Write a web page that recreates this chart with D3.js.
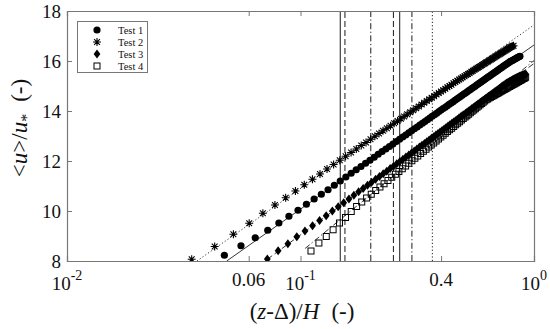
<!DOCTYPE html>
<html lang="en">
<head>
<meta charset="UTF-8">
<script src="https://d3js.org/d3.v7.min.js"></script>
<style>
    body { margin: 0; background: white; }
    text { font-family: "Liberation Serif", "Times New Roman", serif; fill: #111; }
</style>
</head>
<body>
<div id="chart"></div>
<script>
    // measured profiles, one array pair per test
    const testNames = ["Test 1", "Test 2", "Test 3", "Test 4"];

    const test1X = [0.0472, 0.0556, 0.064, 0.0724, 0.0808, 0.0892, 0.0976, 0.106, 0.1144, 0.1228,
        0.1312, 0.1396, 0.148, 0.1564, 0.1648, 0.1732, 0.1816, 0.19, 0.1984, 0.2068,
        0.2152, 0.2236, 0.232, 0.2404, 0.2488, 0.2572, 0.2656, 0.274, 0.2824, 0.2908,
        0.2992, 0.3076, 0.316, 0.3244, 0.3328, 0.3412, 0.3496, 0.358, 0.3664, 0.3748,
        0.3832, 0.3916, 0.4, 0.4084, 0.4168, 0.4252, 0.4336, 0.442, 0.4504, 0.4588,
        0.4672, 0.4756, 0.484, 0.4924, 0.5008, 0.5092, 0.5176, 0.526, 0.5344, 0.5428,
        0.5512, 0.5596, 0.568, 0.5764, 0.5848, 0.5932, 0.6016, 0.61, 0.6184, 0.6268,
        0.6352, 0.6436, 0.652, 0.6604, 0.6688, 0.6772, 0.6856, 0.694, 0.7024, 0.7108,
        0.7192, 0.7276, 0.736, 0.7444, 0.7528, 0.7612, 0.7696, 0.778, 0.7864, 0.7948,
        0.8032, 0.8116, 0.82, 0.8284, 0.8368, 0.8452, 0.8536, 0.862, 0.8704];
    const test1Y = [8.23, 8.61, 8.93, 9.23, 9.52, 9.79, 10.03, 10.27, 10.48, 10.67,
        10.85, 11.03, 11.20, 11.36, 11.51, 11.65, 11.78, 11.91, 12.03, 12.15,
        12.27, 12.38, 12.48, 12.58, 12.68, 12.78, 12.87, 12.96, 13.04, 13.13,
        13.21, 13.29, 13.36, 13.44, 13.51, 13.58, 13.65, 13.72, 13.79, 13.85,
        13.91, 13.98, 14.04, 14.10, 14.15, 14.21, 14.27, 14.32, 14.37, 14.43,
        14.48, 14.53, 14.58, 14.63, 14.68, 14.72, 14.77, 14.82, 14.86, 14.91,
        14.95, 14.99, 15.04, 15.08, 15.12, 15.16, 15.20, 15.24, 15.28, 15.32,
        15.36, 15.39, 15.43, 15.47, 15.50, 15.54, 15.57, 15.61, 15.64, 15.68,
        15.71, 15.74, 15.78, 15.81, 15.84, 15.87, 15.90, 15.93, 15.96, 15.99,
        16.01, 16.03, 16.06, 16.08, 16.10, 16.13, 16.15, 16.17, 16.19];

    const test2X = [0.0342, 0.0429, 0.0516, 0.0603, 0.069, 0.0777, 0.0864, 0.0951, 0.1038, 0.1125,
        0.1212, 0.1299, 0.1386, 0.1473, 0.156, 0.1647, 0.1734, 0.1821, 0.1908, 0.1995,
        0.2082, 0.2169, 0.2256, 0.2343, 0.243, 0.2517, 0.2604, 0.2691, 0.2778, 0.2865,
        0.2952, 0.3039, 0.3126, 0.3213, 0.33, 0.3387, 0.3474, 0.3561, 0.3648, 0.3735,
        0.3822, 0.3909, 0.3996, 0.4083, 0.417, 0.4257, 0.4344, 0.4431, 0.4518, 0.4605,
        0.4692, 0.4779, 0.4866, 0.4953, 0.504, 0.5127, 0.5214, 0.5301, 0.5388, 0.5475,
        0.5562, 0.5649, 0.5736, 0.5823, 0.591, 0.5997, 0.6084, 0.6171, 0.6258, 0.6345,
        0.6432, 0.6519, 0.6606, 0.6693, 0.678, 0.6867, 0.6954, 0.7041, 0.7128, 0.7215,
        0.7302, 0.7389, 0.7476, 0.7563, 0.765, 0.7737, 0.7824, 0.7911, 0.7998, 0.8085,
        0.8172];
    const test2Y = [8.07, 8.58, 9.07, 9.51, 9.91, 10.24, 10.53, 10.80, 11.05, 11.27,
        11.48, 11.68, 11.86, 12.03, 12.19, 12.34, 12.48, 12.62, 12.74, 12.87,
        12.99, 13.10, 13.21, 13.31, 13.41, 13.51, 13.60, 13.69, 13.78, 13.87,
        13.95, 14.03, 14.11, 14.18, 14.26, 14.33, 14.40, 14.47, 14.53, 14.59,
        14.66, 14.72, 14.78, 14.83, 14.89, 14.95, 15.00, 15.05, 15.11, 15.16,
        15.21, 15.26, 15.30, 15.35, 15.39, 15.44, 15.48, 15.52, 15.57, 15.61,
        15.65, 15.69, 15.73, 15.76, 15.80, 15.84, 15.88, 15.91, 15.95, 15.98,
        16.02, 16.05, 16.09, 16.12, 16.15, 16.19, 16.22, 16.25, 16.28, 16.31,
        16.34, 16.37, 16.40, 16.43, 16.46, 16.49, 16.52, 16.55, 16.57, 16.59,
        16.61];

    const test3X = [0.0721, 0.0802, 0.0883, 0.0964, 0.1045, 0.1126, 0.1207, 0.1288, 0.1369, 0.145,
        0.1531, 0.1612, 0.1693, 0.1774, 0.1855, 0.1936, 0.2017, 0.2098, 0.2179, 0.226,
        0.2341, 0.2422, 0.2503, 0.2584, 0.2665, 0.2746, 0.2827, 0.2908, 0.2989, 0.307,
        0.3151, 0.3232, 0.3313, 0.3394, 0.3475, 0.3556, 0.3637, 0.3718, 0.3799, 0.388,
        0.3961, 0.4042, 0.4123, 0.4204, 0.4285, 0.4366, 0.4447, 0.4528, 0.4609, 0.469,
        0.4771, 0.4852, 0.4933, 0.5014, 0.5095, 0.5176, 0.5257, 0.5338, 0.5419, 0.55,
        0.5581, 0.5662, 0.5743, 0.5824, 0.5905, 0.5986, 0.6067, 0.6148, 0.6229, 0.631,
        0.6391, 0.6472, 0.6553, 0.6634, 0.6715, 0.6796, 0.6877, 0.6958, 0.7039, 0.712,
        0.7201, 0.7282, 0.7363, 0.7444, 0.7525, 0.7606, 0.7687, 0.7768, 0.7849, 0.793,
        0.8011, 0.8092, 0.8173, 0.8254, 0.8335, 0.8416, 0.8497, 0.8578, 0.8659, 0.874,
        0.8821, 0.8902, 0.8983, 0.9064, 0.9145, 0.9226];
    const test3Y = [8.08, 8.41, 8.69, 8.97, 9.20, 9.41, 9.62, 9.81, 10.00, 10.17,
        10.33, 10.48, 10.63, 10.77, 10.90, 11.03, 11.15, 11.27, 11.38, 11.49,
        11.59, 11.70, 11.79, 11.89, 11.98, 12.07, 12.16, 12.24, 12.32, 12.40,
        12.48, 12.56, 12.63, 12.70, 12.77, 12.84, 12.91, 12.97, 13.04, 13.10,
        13.16, 13.22, 13.28, 13.34, 13.40, 13.45, 13.51, 13.56, 13.61, 13.66,
        13.72, 13.77, 13.82, 13.86, 13.91, 13.96, 14.00, 14.05, 14.10, 14.14,
        14.18, 14.23, 14.27, 14.31, 14.35, 14.39, 14.43, 14.47, 14.51, 14.55,
        14.59, 14.62, 14.66, 14.70, 14.73, 14.77, 14.80, 14.84, 14.87, 14.91,
        14.94, 14.98, 15.01, 15.04, 15.07, 15.11, 15.13, 15.15, 15.18, 15.20,
        15.22, 15.25, 15.27, 15.29, 15.31, 15.33, 15.35, 15.37, 15.38, 15.40,
        15.42, 15.43, 15.44, 15.45, 15.46, 15.47];

    const test4X = [0.1109, 0.1199, 0.1289, 0.1379, 0.1469, 0.1559, 0.1649, 0.1739, 0.1829, 0.1919,
        0.2009, 0.2099, 0.2189, 0.2279, 0.2369, 0.2459, 0.2549, 0.2639, 0.2729, 0.2819,
        0.2909, 0.2999, 0.3089, 0.3179, 0.3269, 0.3359, 0.3449, 0.3539, 0.3629, 0.3719,
        0.3809, 0.3899, 0.3989, 0.4079, 0.4169, 0.4259, 0.4349, 0.4439, 0.4529, 0.4619,
        0.4709, 0.4799, 0.4889, 0.4979, 0.5069, 0.5159, 0.5249, 0.5339, 0.5429, 0.5519,
        0.5609, 0.5699, 0.5789, 0.5879, 0.5969, 0.6059, 0.6149, 0.6239, 0.6329, 0.6419,
        0.6509, 0.6599, 0.6689, 0.6779, 0.6869, 0.6959, 0.7049, 0.7139, 0.7229, 0.7319,
        0.7409, 0.7499, 0.7589, 0.7679, 0.7769, 0.7859, 0.7949, 0.8039, 0.8129, 0.8219,
        0.8309, 0.8399, 0.8489, 0.8579, 0.8669, 0.8759, 0.8849, 0.8939, 0.9029, 0.9119,
        0.9209];
    const test4Y = [8.40, 8.72, 8.98, 9.25, 9.52, 9.74, 9.98, 10.18, 10.36, 10.52,
        10.67, 10.82, 10.96, 11.09, 11.22, 11.35, 11.47, 11.58, 11.69, 11.80,
        11.91, 12.01, 12.11, 12.20, 12.30, 12.39, 12.47, 12.56, 12.64, 12.72,
        12.80, 12.88, 12.96, 13.03, 13.11, 13.18, 13.25, 13.31, 13.38, 13.45,
        13.51, 13.57, 13.64, 13.70, 13.76, 13.81, 13.87, 13.93, 13.99, 14.04,
        14.09, 14.15, 14.20, 14.25, 14.30, 14.35, 14.40, 14.45, 14.48, 14.52,
        14.55, 14.58, 14.61, 14.64, 14.67, 14.70, 14.73, 14.76, 14.79, 14.82,
        14.85, 14.87, 14.90, 14.93, 14.96, 14.98, 15.01, 15.03, 15.06, 15.08,
        15.11, 15.13, 15.16, 15.18, 15.21, 15.23, 15.25, 15.28, 15.30, 15.32,
        15.35];

    // log-law fits (start and end point of each line), order = testNames
    const fitX0 = [0.0483, 0.036, 0.0721, 0.1046];
    const fitY0 = [8.0, 8.0, 8.07, 8.5];
    const fitX1 = [1, 1, 1, 1];
    const fitY1 = [16.64, 17.44, 15.9, 16.02];

    // limits of the fit ranges, with the test they belong to
    const vlineX = [0.148, 0.266, 0.367, 0.155, 0.25, 0.2, 0.3];
    const vlineTest = [0, 0, 1, 2, 2, 3, 3];

    const xTicks = [0.01, 0.06, 0.1, 0.4, 1];
    const xTickBase = ["10", "0.06", "10", "0.4", "10"];
    const xTickExp = ["-2", "", "-1", "", "0"];
    const yTicks = [8, 10, 12, 14, 16, 18];

    const width = 550, height = 329;
    const margin = { left: 67, right: 16, top: 11, bottom: 68 };

    const svg = d3.select("#chart").append("svg")
        .attr("width", width)
        .attr("height", height);

    const x = d3.scaleLog().domain([0.01, 1]).range([margin.left, width - margin.right]);
    const y = d3.scaleLinear().domain([8, 18]).range([height - margin.bottom, margin.top]);

    const axisColor = "#777";
    const dashes = ["none", "1.2,2.2", "6,3", "6,2.5,1.2,2.5"];

    svg.append("clipPath").attr("id", "plotclip")
        .append("rect")
        .attr("x", x.range()[0]).attr("y", y.range()[1])
        .attr("width", x.range()[1] - x.range()[0])
        .attr("height", y.range()[0] - y.range()[1]);

    const plot = svg.append("g").attr("clip-path", "url(#plotclip)");

    // marker shapes
    const starPath = "M-4,0H4M0,-4V4M-2.9,-2.9L2.9,2.9M-2.9,2.9L2.9,-2.9";
    const drawMarker = (g, k) => {
        if (k === 0) {
            g.append("circle").attr("r", 3.6).attr("fill", "#000");
        } else if (k === 1) {
            g.append("path").attr("d", starPath).attr("stroke", "#000").attr("stroke-width", 1.1).attr("fill", "none");
        } else if (k === 2) {
            g.append("path").attr("d", "M0,-4.6L3.4,0L0,4.6L-3.4,0Z").attr("fill", "#000");
        } else {
            g.append("rect").attr("x", -3).attr("y", -3).attr("width", 6).attr("height", 6)
                .attr("fill", "none").attr("stroke", "#000").attr("stroke-width", 1);
        }
    };

    const series = [[test1X, test1Y], [test2X, test2Y], [test3X, test3Y], [test4X, test4Y]];

    series.forEach((s, k) => {
        const pts = s[0].map((v, i) => [v, s[1][i]]);
        plot.append("g").selectAll("g")
            .data(pts)
            .enter()
            .append("g")
            .attr("transform", d => `translate(${x(d[0])},${y(d[1])})`)
            .each(function () { drawMarker(d3.select(this), k); });
    });

    // fit lines
    testNames.forEach((t, k) => {
        plot.append("line")
            .attr("x1", x(fitX0[k])).attr("y1", y(fitY0[k]))
            .attr("x2", x(fitX1[k])).attr("y2", y(fitY1[k]))
            .attr("stroke", "#000")
            .attr("stroke-width", 0.8)
            .attr("stroke-dasharray", dashes[k]);
    });

    // vertical limits
    plot.selectAll(".vline")
        .data(vlineX)
        .enter()
        .append("line")
        .attr("x1", d => x(d)).attr("x2", d => x(d))
        .attr("y1", y.range()[0]).attr("y2", y.range()[1])
        .attr("stroke", "#000")
        .attr("stroke-width", 0.9)
        .attr("stroke-dasharray", (d, i) => dashes[vlineTest[i]]);

    // axes, ticks pointing inwards on all four sides
    const bottomAxis = svg.append("g")
        .attr("transform", `translate(0,${y.range()[0]})`)
        .call(d3.axisBottom(x).tickValues(xTicks).tickSize(-5).tickFormat(""));
    const topAxis = svg.append("g")
        .attr("transform", `translate(0,${y.range()[1]})`)
        .call(d3.axisTop(x).tickValues(xTicks).tickSize(-5).tickFormat(""));
    const leftAxis = svg.append("g")
        .attr("transform", `translate(${x.range()[0]},0)`)
        .call(d3.axisLeft(y).tickValues(yTicks).tickSize(-5).tickFormat(""));
    const rightAxis = svg.append("g")
        .attr("transform", `translate(${x.range()[1]},0)`)
        .call(d3.axisRight(y).tickValues(yTicks).tickSize(-5).tickFormat(""));

    [bottomAxis, topAxis, leftAxis, rightAxis].forEach(a => {
        a.select(".domain").attr("stroke", axisColor).attr("stroke-width", 1.2);
        a.selectAll(".tick line").attr("stroke", axisColor);
    });

    // x tick labels (powers of ten get a superscript)
    xTicks.forEach((v, i) => {
        const lab = svg.append("text")
            .attr("x", x(v))
            .attr("y", xTickExp[i] ? 290 : 286)
            .attr("text-anchor", "middle")
            .style("font-size", "19px");
        lab.append("tspan").text(xTickBase[i]);
        if (xTickExp[i]) {
            lab.append("tspan").attr("dy", -10).style("font-size", "14px").text(xTickExp[i]);
        }
    });

    // y tick labels
    svg.selectAll(".ylab")
        .data(yTicks)
        .enter()
        .append("text")
        .attr("x", 61)
        .attr("y", d => y(d))
        .attr("dy", "0.35em")
        .attr("text-anchor", "end")
        .style("font-size", "19px")
        .text(d => d);

    // axis titles
    const xTitle = svg.append("text")
        .attr("x", 302)
        .attr("y", 319)
        .attr("text-anchor", "middle")
        .style("font-size", "23px");
    xTitle.append("tspan").text("(");
    xTitle.append("tspan").style("font-style", "italic").text("z");
    xTitle.append("tspan").text("-Δ)/");
    xTitle.append("tspan").style("font-style", "italic").text("H");
    xTitle.append("tspan").attr("dx", 12).text("(-)");

    const yTitle = svg.append("text")
        .attr("transform", "translate(27,128) rotate(-90)")
        .attr("text-anchor", "middle")
        .style("font-size", "23px");
    yTitle.append("tspan").text("<");
    yTitle.append("tspan").style("font-style", "italic").text("u");
    yTitle.append("tspan").text(">/");
    yTitle.append("tspan").style("font-style", "italic").text("u");
    yTitle.append("tspan").attr("dy", 5).style("font-size", "16px").text("*");
    yTitle.append("tspan").attr("dy", -5).attr("dx", 12).text("(-)");

    // legend
    const legend = svg.append("g");
    legend.append("rect")
        .attr("x", 77.5).attr("y", 21.5)
        .attr("width", 70).attr("height", 51)
        .attr("fill", "white")
        .attr("stroke", axisColor);
    testNames.forEach((t, k) => {
        const row = legend.append("g").attr("transform", `translate(97,${30 + k * 12})`);
        drawMarker(row, k);
        legend.append("text")
            .attr("x", 118)
            .attr("y", 30 + k * 12)
            .attr("dy", "0.35em")
            .style("font-size", "10.5px")
            .text(t);
    });
</script>
</body>
</html>
